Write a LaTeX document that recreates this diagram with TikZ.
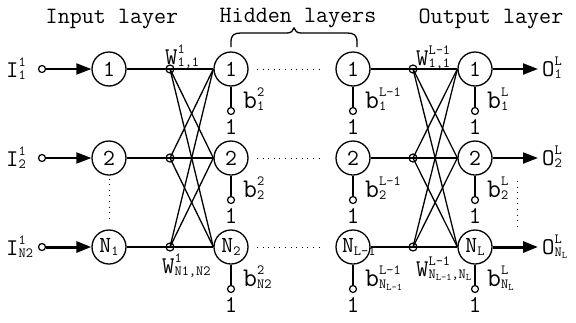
\documentclass[tikz,border=0pt]{standalone}
\usepackage{fontspec}
\usetikzlibrary{arrows.meta}
\renewcommand*\familydefault{\ttdefault}

% base letter with stacked superscript and subscript
\newcommand\ssc[3]{#1%
  \dimen0=0.44em
  \begingroup\fontsize{14}{14}\selectfont
  \setbox0\hbox{\raise\dimen0\hbox{#2}}%
  \setbox2\hbox{\lower0.15em\hbox{#3}}%
  \ifdim\wd0>\wd2 \rlap{\box2}\box0 \else\rlap{\box0}\box2 \fi
  \endgroup}
% letter with a small subscript (inside a subscript)
\newcommand\tsub[2]{#1\lower0.15em\hbox{\fontsize{10}{10}\selectfont #2}}
% letter with a subscript only
\newcommand\osub[2]{#1\lower0.12em\hbox{\fontsize{14}{14}\selectfont #2}}

\begin{document}
\begin{tikzpicture}[x=1pt,y=-1pt,
  neuron/.style={circle,draw,line width=1.3pt,minimum size=34pt,inner sep=0pt,
    font=\ttfamily\fontsize{23}{23}\selectfont},
  port/.style={circle,draw,line width=1.2pt,minimum size=7pt,inner sep=0pt,fill=white},
  junc/.style={circle,draw,line width=1.2pt,minimum size=8pt,inner sep=0pt},
  wire/.style={line width=1.3pt},
  feed/.style={line width=2pt,-{Triangle[length=15pt,width=11pt]}},
  feedbold/.style={feed,line width=3pt},
  dots/.style={line width=1pt,dash pattern=on 1pt off 4.6pt},
  title/.style={font=\ttfamily\fontsize{23.4}{23.4}\selectfont,anchor=base,inner sep=0pt},
  lab/.style={inner sep=0pt,font=\ttfamily\fontsize{24}{24}\selectfont,anchor=base west},
  blab/.style={inner sep=0pt,font=\ttfamily\fontsize{27}{27}\selectfont,anchor=base west},
  one/.style={inner sep=0pt,font=\ttfamily\fontsize{24}{24}\selectfont,anchor=base}]
\useasboundingbox (0,0) rectangle (576,322);

% layer titles
\node[title] (tin)  at (112,23) {Input layer};
\node[title] (thid) at (298,22) {Hidden layers};
\node[title] (tout) at (491,23) {Output layer};
\draw[line width=1.3pt] (231,47) -- (231,42) .. controls (231,35) and (234,33) .. (241,33)
  -- (287,33) .. controls (291,33) and (293,31) .. (294,28)
  .. controls (295,31) and (297,33) .. (301,33) -- (347,33)
  .. controls (354,33) and (357,35) .. (357,42) -- (357,47);

% input layer
\node[neuron] (i1) at (109,69) {1};
\node[neuron] (i2) at (109,158) {2};
\node[neuron] (i3) at (109,247) {\osub{N}{1}};
\node[port] (s1) at (42,69) {};
\node[port] (s2) at (42,158) {};
\node[port] (s3) at (42,247) {};
\node[lab] (li1) at (6,77) {\ssc{I}{1}{1}};
\node[lab] (li2) at (6,166) {\ssc{I}{1}{2}};
\node[lab] (li3) at (6,255) {\ssc{I}{1}{N2}};
\draw[feed] (s1) -- (i1);
\draw[feed] (s2) -- (i2);
\draw[feedbold] (s3) -- (i3);
\draw[dots] ([yshift=-3pt]i2.south) -- ([yshift=8pt]i3.north);

% first hidden layer
\node[neuron] (h1) at (231,69) {1};
\node[neuron] (h2) at (231,158) {2};
\node[neuron] (h3) at (231,247) {\osub{N}{2}};
\node[junc] (j1) at (170,69) {};
\node[junc] (j2) at (170,158) {};
\node[junc] (j3) at (170,247) {};
\foreach \a in {1,2,3} {
  \draw[wire] (i\a) -- (j\a.center);
  \foreach \b in {1,2,3} \draw[wire] (j\a.center) -- (h\b.west);
}
\node[lab] (w1) at (165,64) {\ssc{W}{1}{1,1}};
\node[lab] (w2) at (162,273) {\ssc{W}{1}{N1,N2}};

% last hidden layer
\node[neuron] (k1) at (353,69) {1};
\node[neuron] (k2) at (353,158) {2};
\node[neuron] (k3) at (353,247) {\makebox[22pt][l]{N\lower0.12em\hbox{\fontsize{14}{14}\selectfont L-1}}};
\foreach \a in {1,2,3}
  \draw[dots] ([xshift=26pt]h\a.center) -- ([xshift=-30pt]k\a.center);

% output layer
\node[neuron] (o1) at (475,69) {1};
\node[neuron] (o2) at (475,158) {2};
\node[neuron] (o3) at (475,247) {\osub{N}{L}};
\node[junc] (q1) at (413,69) {};
\node[junc] (q2) at (413,158) {};
\node[junc] (q3) at (413,247) {};
\foreach \a in {1,2,3} {
  \draw[wire] (k\a) -- (q\a.center);
  \foreach \b in {1,2,3} \draw[wire] (q\a.center) -- (o\b.west);
}
\node[lab] (w3) at (416,65) {\ssc{W}{L-1}{1,1}};
\node[lab] (w4) at (416,276) {\ssc{W}{L-1}{\tsub{N}{L-1},\tsub{N}{L}}};
\coordinate (e1) at (538,69);
\coordinate (e2) at (538,158);
\coordinate (e3) at (538,247);
\draw[feed] (o1) -- (e1);
\draw[feed] (o2) -- (e2);
\draw[feedbold] (o3) -- (e3);
\node[lab] (lo1) at (542,76) {\ssc{O}{L}{1}};
\node[lab] (lo2) at (542,165) {\ssc{O}{L}{2}};
\node[lab] (lo3) at (542,254) {\ssc{O}{L}{\tsub{N}{L}}};
\coordinate (d1) at (517,181);
\coordinate (d2) at (517,228);
\draw[dots] (d1) -- (d2);

% biases
\foreach \n in {h,k,o}
  \foreach \a in {1,2,3} {
    \node[port] (b\n\a) at ([yshift=-42pt]\n\a.center) {};
    \draw[wire] (\n\a) -- (b\n\a);
    \node[one] (u\n\a) at ([yshift=-65pt]\n\a.center) {1};
  }
\node[blab] (bh1) at ([xshift=12pt,yshift=-39pt]h1.center) {\ssc{b}{2}{1}};
\node[blab] (bh2) at ([xshift=12pt,yshift=-39pt]h2.center) {\ssc{b}{2}{2}};
\node[blab] (bh3) at ([xshift=12pt,yshift=-39pt]h3.center) {\ssc{b}{2}{N2}};
\node[blab] (bk1) at ([xshift=12pt,yshift=-39pt]k1.center) {\ssc{b}{L-1}{1}};
\node[blab] (bk2) at ([xshift=12pt,yshift=-39pt]k2.center) {\ssc{b}{L-1}{2}};
\node[blab] (bk3) at ([xshift=12pt,yshift=-39pt]k3.center) {\ssc{b}{L-1}{\tsub{N}{L-1}}};
\node[blab] (bo1) at ([xshift=12pt,yshift=-39pt]o1.center) {\ssc{b}{L}{1}};
\node[blab] (bo2) at ([xshift=12pt,yshift=-39pt]o2.center) {\ssc{b}{L}{2}};
\node[blab] (bo3) at ([xshift=12pt,yshift=-39pt]o3.center) {\ssc{b}{L}{\tsub{N}{L}}};
\end{tikzpicture}
\end{document}
